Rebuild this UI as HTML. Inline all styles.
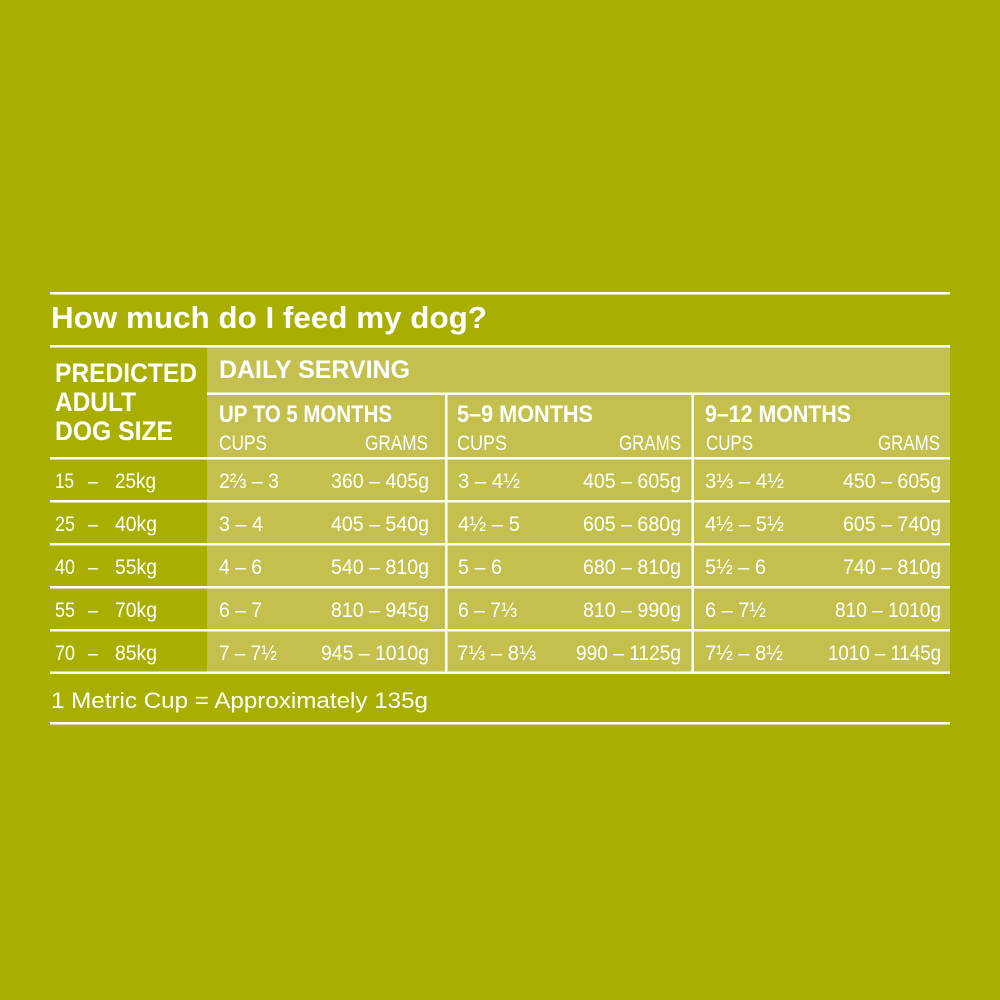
<!DOCTYPE html>
<html>
<head>
<meta charset="utf-8">
<style>
  html,body{margin:0;padding:0;background:#A9AF00;}
  svg{display:block;}
  text{font-family:"Liberation Sans","DejaVu Sans",sans-serif;fill:#ffffff;}
  .b{font-weight:bold;}
  .r{font-size:21px;}
</style>
</head>
<body>
<svg width="1000" height="1000" viewBox="0 0 1000 1000" xmlns="http://www.w3.org/2000/svg">
  <rect x="0" y="0" width="1000" height="1000" fill="#A9AF00"/>
  <!-- light cell area -->
  <rect x="207" y="347" width="743" height="325" fill="#C3C04E"/>

  <!-- horizontal lines -->
  <g fill="#FFFFFF">
    <rect x="50" y="292" width="900" height="2.5"/>
    <rect x="50" y="345" width="900" height="2.5"/>
    <rect x="207" y="392.5" width="743" height="2.5"/>
    <rect x="50" y="457" width="900" height="2.5"/>
    <rect x="50" y="500" width="900" height="2.5"/>
    <rect x="50" y="543" width="900" height="2.5"/>
    <rect x="50" y="586" width="900" height="2.5"/>
    <rect x="50" y="629" width="900" height="2.5"/>
    <rect x="50" y="671.5" width="900" height="2.5"/>
    <rect x="50" y="722" width="900" height="2.5"/>
    <!-- vertical lines -->
    <rect x="445" y="393" width="2.5" height="280"/>
    <rect x="691.5" y="393" width="2.5" height="280"/>
  </g>

  <!-- Title -->
  <text class="b" x="51" y="328" font-size="31" textLength="436" lengthAdjust="spacingAndGlyphs">How much do I feed my dog?</text>

  <!-- Left header -->
  <text class="b" x="55" y="382" font-size="27" textLength="142" lengthAdjust="spacingAndGlyphs">PREDICTED</text>
  <text class="b" x="55" y="411" font-size="27" textLength="81" lengthAdjust="spacingAndGlyphs">ADULT</text>
  <text class="b" x="55" y="440" font-size="27" textLength="118" lengthAdjust="spacingAndGlyphs">DOG SIZE</text>

  <!-- Daily serving -->
  <text class="b" x="219" y="378" font-size="25" textLength="191" lengthAdjust="spacingAndGlyphs">DAILY SERVING</text>

  <!-- Column headers -->
  <text class="b" x="219" y="422" font-size="24" textLength="173" lengthAdjust="spacingAndGlyphs">UP TO 5 MONTHS</text>
  <text class="b" x="457" y="422" font-size="24" textLength="136" lengthAdjust="spacingAndGlyphs">5–9 MONTHS</text>
  <text class="b" x="705" y="422" font-size="24" textLength="146" lengthAdjust="spacingAndGlyphs">9–12 MONTHS</text>

  <text x="219" y="450" font-size="21" textLength="48" lengthAdjust="spacingAndGlyphs">CUPS</text>
  <text x="365" y="450" font-size="21" textLength="63" lengthAdjust="spacingAndGlyphs">GRAMS</text>
  <text x="457" y="450" font-size="21" textLength="50" lengthAdjust="spacingAndGlyphs">CUPS</text>
  <text x="619" y="450" font-size="21" textLength="62" lengthAdjust="spacingAndGlyphs">GRAMS</text>
  <text x="706" y="450" font-size="21" textLength="47" lengthAdjust="spacingAndGlyphs">CUPS</text>
  <text x="878" y="450" font-size="21" textLength="62" lengthAdjust="spacingAndGlyphs">GRAMS</text>

  <!-- Left column rows -->
  <g class="r">
    <text x="55" y="488" textLength="19" lengthAdjust="spacingAndGlyphs">15</text>
    <text x="88" y="488" textLength="10" lengthAdjust="spacingAndGlyphs">–</text>
    <text x="115" y="488" textLength="41" lengthAdjust="spacingAndGlyphs">25kg</text>

    <text x="55" y="531" textLength="20" lengthAdjust="spacingAndGlyphs">25</text>
    <text x="88" y="531" textLength="10" lengthAdjust="spacingAndGlyphs">–</text>
    <text x="115" y="531" textLength="42" lengthAdjust="spacingAndGlyphs">40kg</text>

    <text x="55" y="574" textLength="20" lengthAdjust="spacingAndGlyphs">40</text>
    <text x="88" y="574" textLength="10" lengthAdjust="spacingAndGlyphs">–</text>
    <text x="115" y="574" textLength="42" lengthAdjust="spacingAndGlyphs">55kg</text>

    <text x="55" y="617" textLength="20" lengthAdjust="spacingAndGlyphs">55</text>
    <text x="88" y="617" textLength="10" lengthAdjust="spacingAndGlyphs">–</text>
    <text x="115" y="617" textLength="42" lengthAdjust="spacingAndGlyphs">70kg</text>

    <text x="55" y="660" textLength="20" lengthAdjust="spacingAndGlyphs">70</text>
    <text x="88" y="660" textLength="10" lengthAdjust="spacingAndGlyphs">–</text>
    <text x="115" y="660" textLength="42" lengthAdjust="spacingAndGlyphs">85kg</text>
  </g>

  <!-- Data rows -->
  <g class="r">
    <!-- Row 1 -->
    <text x="219" y="488" textLength="60" lengthAdjust="spacingAndGlyphs">2⅔ – 3</text>
    <text x="331" y="488" textLength="98" lengthAdjust="spacingAndGlyphs">360 – 405g</text>
    <text x="458" y="488" textLength="62" lengthAdjust="spacingAndGlyphs">3 – 4½</text>
    <text x="583" y="488" textLength="98" lengthAdjust="spacingAndGlyphs">405 – 605g</text>
    <text x="705" y="488" textLength="79" lengthAdjust="spacingAndGlyphs">3⅓ – 4½</text>
    <text x="843" y="488" textLength="98" lengthAdjust="spacingAndGlyphs">450 – 605g</text>

    <!-- Row 2 -->
    <text x="219" y="531" textLength="44" lengthAdjust="spacingAndGlyphs">3 – 4</text>
    <text x="331" y="531" textLength="98" lengthAdjust="spacingAndGlyphs">405 – 540g</text>
    <text x="458" y="531" textLength="62" lengthAdjust="spacingAndGlyphs">4½ – 5</text>
    <text x="583" y="531" textLength="98" lengthAdjust="spacingAndGlyphs">605 – 680g</text>
    <text x="705" y="531" textLength="79" lengthAdjust="spacingAndGlyphs">4½ – 5½</text>
    <text x="843" y="531" textLength="98" lengthAdjust="spacingAndGlyphs">605 – 740g</text>

    <!-- Row 3 -->
    <text x="219" y="574" textLength="43" lengthAdjust="spacingAndGlyphs">4 – 6</text>
    <text x="331" y="574" textLength="98" lengthAdjust="spacingAndGlyphs">540 – 810g</text>
    <text x="458" y="574" textLength="44" lengthAdjust="spacingAndGlyphs">5 – 6</text>
    <text x="583" y="574" textLength="98" lengthAdjust="spacingAndGlyphs">680 – 810g</text>
    <text x="705" y="574" textLength="61" lengthAdjust="spacingAndGlyphs">5½ – 6</text>
    <text x="843" y="574" textLength="98" lengthAdjust="spacingAndGlyphs">740 – 810g</text>

    <!-- Row 4 -->
    <text x="219" y="617" textLength="43" lengthAdjust="spacingAndGlyphs">6 – 7</text>
    <text x="331" y="617" textLength="98" lengthAdjust="spacingAndGlyphs">810 – 945g</text>
    <text x="458" y="617" textLength="59" lengthAdjust="spacingAndGlyphs">6 – 7⅓</text>
    <text x="583" y="617" textLength="98" lengthAdjust="spacingAndGlyphs">810 – 990g</text>
    <text x="705" y="617" textLength="61" lengthAdjust="spacingAndGlyphs">6 – 7½</text>
    <text x="835" y="617" textLength="106" lengthAdjust="spacingAndGlyphs">810 – 1010g</text>

    <!-- Row 5 -->
    <text x="219" y="660" textLength="58" lengthAdjust="spacingAndGlyphs">7 – 7½</text>
    <text x="321" y="660" textLength="108" lengthAdjust="spacingAndGlyphs">945 – 1010g</text>
    <text x="457" y="660" textLength="79" lengthAdjust="spacingAndGlyphs">7⅓ – 8⅓</text>
    <text x="576" y="660" textLength="105" lengthAdjust="spacingAndGlyphs">990 – 1125g</text>
    <text x="705" y="660" textLength="78" lengthAdjust="spacingAndGlyphs">7½ – 8½</text>
    <text x="828" y="660" textLength="113" lengthAdjust="spacingAndGlyphs">1010 – 1145g</text>
  </g>

  <!-- Footer -->
  <text x="51" y="708" font-size="22" textLength="377" lengthAdjust="spacingAndGlyphs">1 Metric Cup = Approximately 135g</text>
</svg>
</body>
</html>
